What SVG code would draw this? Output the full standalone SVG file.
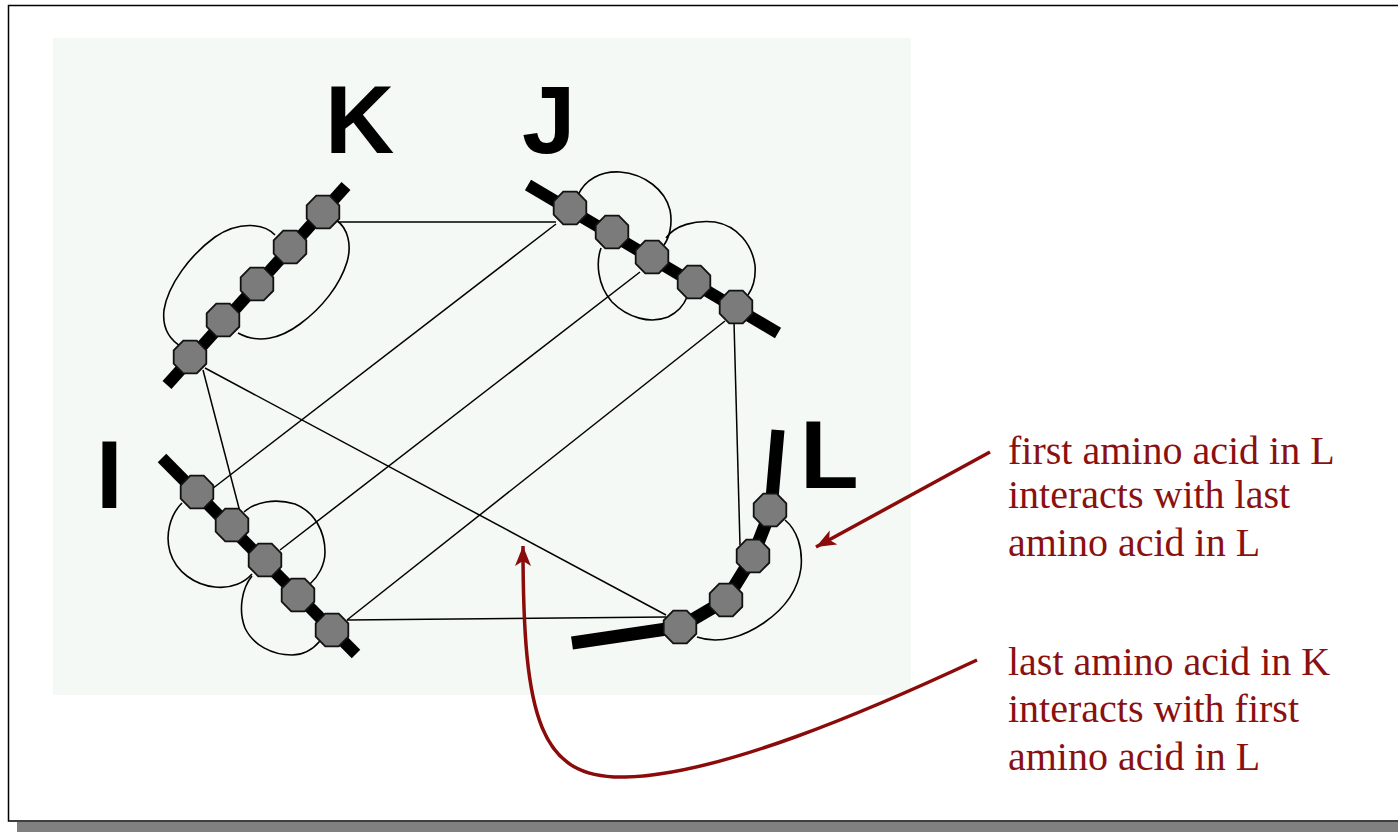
<svg xmlns="http://www.w3.org/2000/svg" width="1398" height="832" viewBox="0 0 1398 832">
  <style>
    .loop { fill: none; stroke: #000; stroke-width: 1.6; }
    .link { fill: none; stroke: #000; stroke-width: 1.5; }
    .chain { fill: none; stroke: #000; stroke-width: 12; stroke-linejoin: round; }
    .bead { fill: #7b7b7b; stroke: #111; stroke-width: 1.8; }
    .label { font-family: "Liberation Sans", Arial, sans-serif; font-weight: bold; font-size: 96px; fill: #000; }
    .note { font-family: "Liberation Serif", "Times New Roman", serif; font-size: 40px; fill: #8b1010; }
    .pointer { fill: none; stroke: #8b0a0a; stroke-width: 3.5; }
  </style>
  <defs>
    <polygon id="bead" class="bead" points="16.3,6.75 6.75,16.3 -6.75,16.3 -16.3,6.75 -16.3,-6.75 -6.75,-16.3 6.75,-16.3 16.3,-6.75"/>
    <marker id="head" markerUnits="userSpaceOnUse" markerWidth="24" markerHeight="18" refX="20" refY="8" orient="auto">
      <path d="M0,0 L20,8 L0,16 L5,8 Z" fill="#8b0a0a"/>
    </marker>
  </defs>

  <!-- page frame with drop shadow -->
  <rect x="0" y="0" width="1398" height="832" fill="#fff"/>
  <rect x="17" y="822" width="1381" height="10" fill="#808080"/>
  <path d="M1398,5.5 H8.5 V821 H1398" fill="none" stroke="#000" stroke-width="1.5"/>

  <!-- light panel behind the chains -->
  <rect x="53" y="38" width="858" height="657" fill="#f4f9f5"/>

  <!-- interaction lines between residues -->
  <g id="connectors">
    <line class="link" x1="338" y1="222" x2="556" y2="222"/>
    <line class="link" x1="203" y1="370" x2="240" y2="512"/>
    <line class="link" x1="205" y1="368" x2="666" y2="615"/>
    <line class="link" x1="556" y1="224" x2="212" y2="489"/>
    <line class="link" x1="640" y1="272" x2="280" y2="550"/>
    <line class="link" x1="725" y1="321" x2="347" y2="620"/>
    <line class="link" x1="734" y1="322" x2="740" y2="545"/>
    <line class="link" x1="347" y1="620" x2="666" y2="617"/>
  </g>

  <!-- chain K -->
  <g id="chain-K">
    <path class="loop" d="M275,235 C265,224 240,220 215,237 C190,255 168,285 164,310 C162,328 170,340 182,347"/>
    <path class="loop" d="M336,220 C348,228 352,245 347,262 C340,285 322,308 300,324 C280,339 258,344 238,333"/>
    <line class="chain" x1="167" y1="385" x2="346" y2="186"/>
    <use href="#bead" x="323" y="212"/>
    <use href="#bead" x="290" y="247"/>
    <use href="#bead" x="257" y="284"/>
    <use href="#bead" x="223" y="320"/>
    <use href="#bead" x="190" y="357"/>
    <text class="label" x="325" y="153">K</text>
  </g>

  <!-- chain J -->
  <g id="chain-J">
    <path class="loop" d="M578,195 C585,180 600,171 620,172 C645,174 665,190 670,210 C673,225 669,238 664,245"/>
    <path class="loop" d="M666,238 C675,225 695,220 715,222 C738,226 752,245 755,265 C756,278 753,288 748,295"/>
    <path class="loop" d="M601,248 C596,262 597,285 612,302 C628,318 650,324 668,317 C678,312 684,305 687,297"/>
    <line class="chain" x1="528" y1="185" x2="778" y2="333"/>
    <use href="#bead" x="570" y="208"/>
    <use href="#bead" x="612" y="232"/>
    <use href="#bead" x="652" y="257"/>
    <use href="#bead" x="694" y="282"/>
    <use href="#bead" x="736" y="307"/>
    <text class="label" x="522" y="153">J</text>
  </g>

  <!-- chain I -->
  <g id="chain-I">
    <path class="loop" d="M182,503 C170,515 165,535 170,552 C176,572 195,585 215,587 C232,589 245,582 252,574"/>
    <path class="loop" d="M244,512 C255,502 275,498 295,504 C315,512 325,532 325,552 C325,565 318,577 310,584"/>
    <path class="loop" d="M252,576 C242,588 238,610 245,628 C253,645 272,655 292,655 C305,655 314,648 320,641"/>
    <line class="chain" x1="162" y1="458" x2="356" y2="654"/>
    <use href="#bead" x="197" y="492"/>
    <use href="#bead" x="232" y="525"/>
    <use href="#bead" x="265" y="560"/>
    <use href="#bead" x="298" y="595"/>
    <use href="#bead" x="332" y="630"/>
    <text class="label" x="96" y="508">I</text>
  </g>

  <!-- chain L -->
  <g id="chain-L">
    <path class="loop" d="M785,520 C797,530 803,548 801,568 C798,590 785,608 765,622 C745,636 720,645 697,637"/>
    <polyline class="chain" style="stroke-width:13" points="778,430 771,510 753,556 726,600 680,627 572,643"/>
    <use href="#bead" x="770" y="510"/>
    <use href="#bead" x="753" y="556"/>
    <use href="#bead" x="726" y="600"/>
    <use href="#bead" x="680" y="627"/>
    <text class="label" x="800" y="488">L</text>
  </g>

  <!-- annotations -->
  <g id="note-first">
    <text class="note" x="1008" y="464">first amino acid in L</text>
    <text class="note" x="1008" y="508">interacts with last</text>
    <text class="note" x="1008" y="556">amino acid in L</text>
    <line class="pointer" x1="990" y1="452" x2="816" y2="547" marker-end="url(#head)"/>
  </g>
  <g id="note-last">
    <text class="note" x="1008" y="675">last amino acid in K</text>
    <text class="note" x="1008" y="722">interacts with first</text>
    <text class="note" x="1008" y="770">amino acid in L</text>
    <path class="pointer" d="M977,660 C870,710 720,775 625,777 C540,779 523,720 523,546" marker-end="url(#head)"/>
  </g>
</svg>
